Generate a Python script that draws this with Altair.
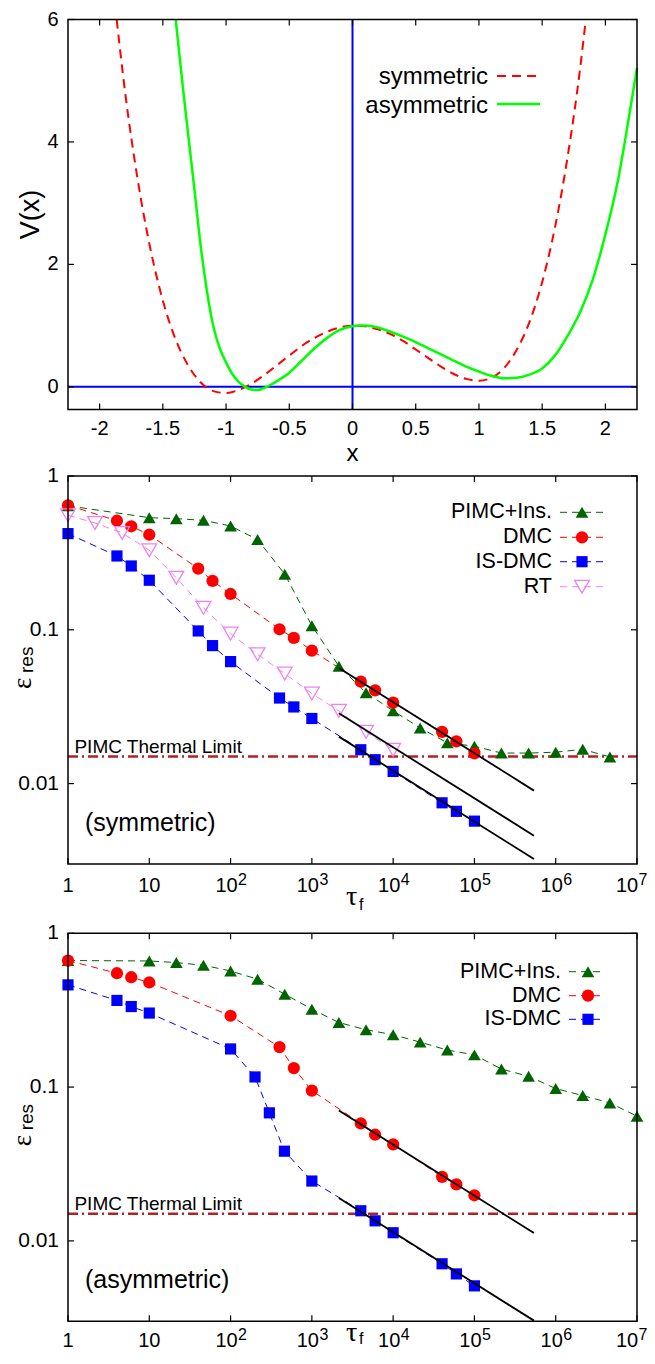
import altair as alt
import pandas as pd

# ---------------- potential panel ----------------
sym_x = [-1.865, -1.8, -1.7, -1.6, -1.5, -1.4, -1.3, -1.2, -1.1, -1.0, -0.9, -0.8, -0.7, -0.6,
         -0.5, -0.4, -0.3, -0.2, -0.1, 0.0, 0.1, 0.2, 0.3, 0.4, 0.5, 0.6, 0.7, 0.8, 0.9, 1.0,
         1.1, 1.2, 1.3, 1.4, 1.5, 1.6, 1.7, 1.8, 1.845]
sym_v = [6.0, 4.84, 3.40, 2.27, 1.41, 0.78, 0.35, 0.07, -0.07, -0.10, -0.05, 0.05, 0.19, 0.35,
         0.51, 0.67, 0.80, 0.90, 0.97, 1.00, 0.99, 0.94, 0.86, 0.75, 0.61, 0.47, 0.33, 0.21, 0.13, 0.10,
         0.15, 0.31, 0.61, 1.06, 1.71, 2.59, 3.74, 5.20, 6.0]
asym_x = [-1.398, -1.35, -1.30, -1.25, -1.20, -1.15, -1.10, -1.05, -1.00, -0.95, -0.90, -0.85, -0.80,
          -0.75, -0.70, -0.65, -0.60, -0.50, -0.40, -0.30, -0.20, -0.10, 0.00, 0.05, 0.10, 0.20, 0.30,
          0.40, 0.50, 0.60, 0.70, 0.80, 0.90, 1.00, 1.10, 1.20, 1.30, 1.40, 1.50, 1.60, 1.70, 1.80,
          1.90, 2.00, 2.10, 2.20, 2.25]
asym_v = [6.0, 5.05, 4.13, 3.22, 2.29, 1.55, 0.98, 0.63, 0.40, 0.21, 0.08, 0.00, -0.045,
          -0.05, -0.02, 0.03, 0.09, 0.23, 0.43, 0.63, 0.80, 0.93, 0.99, 1.00, 1.00, 0.97, 0.90,
          0.82, 0.73, 0.63, 0.53, 0.43, 0.33, 0.25, 0.18, 0.14, 0.15, 0.20, 0.30, 0.51, 0.83, 1.22,
          1.75, 2.49, 3.38, 4.58, 5.21]
top_x_ticks = [-2, -1.5, -1, -0.5, 0, 0.5, 1, 1.5, 2]
top_x_labels = ["-2", "-1.5", "-1", "-0.5", "0", "0.5", "1", "1.5", "2"]
top_y_ticks = [0, 2, 4, 6]
top_y_labels = ["0", "2", "4", "6"]

# ---------------- symmetric panel ----------------
pimc_s_tau = [1, 10, 21.5, 46.4, 100, 215, 464, 1000, 2150, 4640, 1e4, 21500, 46400, 1e5,
              215000, 464000, 1e6, 2.15e6, 4.64e6]
pimc_s_eps = [0.64, 0.536, 0.528, 0.515, 0.473, 0.386, 0.230, 0.1064, 0.058, 0.039, 0.0297, 0.023,
              0.0184, 0.0175, 0.0158, 0.0158, 0.0160, 0.0167, 0.0149]
dmc_s_tau = [1, 4, 6, 10, 40, 60, 100, 400, 600, 1000, 4000, 6000, 1e4, 4e4, 6e4, 1e5]
dmc_s_eps = [0.645, 0.512, 0.471, 0.415, 0.250, 0.208, 0.171, 0.1008, 0.0885, 0.0732, 0.046,
             0.0404, 0.0336, 0.0217, 0.0188, 0.0157]
isdmc_s_tau = [1, 4, 6, 10, 40, 60, 100, 400, 600, 1000, 4000, 6000, 1e4, 4e4, 6e4, 1e5]
isdmc_s_eps = [0.422, 0.302, 0.260, 0.210, 0.0983, 0.0789, 0.0621, 0.0360, 0.0315, 0.0265,
               0.0166, 0.0143, 0.0120, 0.0075, 0.0066, 0.0057]
rt_s_tau = [1, 2.15, 4.64, 10, 21.5, 46.4, 100, 215, 464, 1000, 2150, 4640, 1e4]
rt_s_eps = [0.555, 0.495, 0.426, 0.329, 0.218, 0.139, 0.0944, 0.0693, 0.0519, 0.0385, 0.0297,
            0.0217, 0.0166]
fit_tau = [2150, 5.4e5]
fit_s_dmc = [0.0565, 0.0090]
fit_s_rt = [0.0287, 0.00458]
fit_s_is = [0.0202, 0.00323]

# ---------------- asymmetric panel ----------------
pimc_a_tau = [1, 10, 21.5, 46.4, 100, 215, 464, 1000, 2150, 4640, 1e4, 21500, 46400, 1e5,
              215000, 464000, 1e6, 2.15e6, 4.64e6, 1e7]
pimc_a_eps = [0.665, 0.661, 0.645, 0.620, 0.569, 0.503, 0.402, 0.321, 0.263, 0.236, 0.219, 0.196,
              0.174, 0.162, 0.131, 0.1175, 0.0978, 0.0881, 0.0789, 0.0647]
dmc_a_tau = [1, 4, 6, 10, 100, 400, 600, 1000, 4000, 6000, 1e4, 4e4, 6e4, 1e5]
dmc_a_eps = [0.665, 0.550, 0.518, 0.479, 0.291, 0.182, 0.133, 0.0949, 0.058, 0.049, 0.0424,
             0.0261, 0.0233, 0.0198]
isdmc_a_tau = [1, 4, 6, 10, 100, 200, 300, 460, 1000, 4000, 6000, 1e4, 4e4, 6e4, 1e5]
isdmc_a_eps = [0.462, 0.366, 0.334, 0.303, 0.177, 0.1164, 0.068, 0.0383, 0.0245, 0.0157, 0.0135,
               0.0113, 0.0071, 0.0061, 0.0051]
fit_a_dmc = [0.0704, 0.01125]
fit_a_is = [0.0190, 0.00303]

thermal_limit = 0.015
log_tick_vals = [1, 10, 100, 1e3, 1e4, 1e5, 1e6, 1e7]
log_tick_base = ["1", "10", "10", "10", "10", "10", "10", "10"]
log_tick_exp = ["", "", "2", "3", "4", "5", "6", "7"]
log_y_ticks = [0.01, 0.1, 1]
log_y_labels = ["0.01", "0.1", "1"]

# ---------------- layout / styling ----------------
FONT = "Liberation Sans, Arial, Helvetica, sans-serif"
SERIF = "Liberation Serif, Times New Roman, serif"
W = 569
T1, H1 = 11.5, 390          # top panel (potential)
T2, T3, H = 468, 925.3, 388  # log panels
HT = 1343
ONE = pd.DataFrame({"k": [0]})
C_PIMC, C_DMC, C_IS, C_RT = "#006400", "#ff0000", "#0000ff", "#ee82ee"
C_TH = "#b22222"


def text_at(s, x, y, size, align="left", baseline="middle", angle=0, font=FONT):
    props = dict(text=s, align=align, baseline=baseline, font=font, fontSize=size, color="black")
    if angle:
        props["angle"] = angle
    return alt.Chart(ONE).mark_text(**props).encode(x=alt.value(x), y=alt.value(y))


def seg(x1, x2, y, color, width, dash=None):
    props = dict(color=color, strokeWidth=width)
    if dash:
        props["strokeDash"] = dash
    return alt.Chart(ONE).mark_rule(**props).encode(x=alt.value(x1), x2=alt.value(x2), y=alt.value(y))


def frame(T, Hh):
    return alt.Chart(ONE).mark_rect(fillOpacity=0, stroke="black", strokeWidth=1.5).encode(
        x=alt.value(0), x2=alt.value(W), y=alt.value(T), y2=alt.value(T + Hh))


def inner_ticks(xvals, yvals, xs, ys, T, Hh, L=6):
    xd = pd.DataFrame({"t": xvals})
    yd = pd.DataFrame({"t": yvals})
    st = dict(color="black", strokeWidth=1.2)
    X = alt.X("t:Q", scale=xs, axis=None)
    Y = alt.Y("t:Q", scale=ys, axis=None)
    return [
        alt.Chart(xd).mark_rule(**st).encode(x=X, y=alt.value(T + Hh), y2=alt.value(T + Hh - L)),
        alt.Chart(xd).mark_rule(**st).encode(x=X, y=alt.value(T), y2=alt.value(T + L)),
        alt.Chart(yd).mark_rule(**st).encode(y=Y, x=alt.value(0), x2=alt.value(L)),
        alt.Chart(yd).mark_rule(**st).encode(y=Y, x=alt.value(W), x2=alt.value(W - L)),
    ]


def y_labels(vals, labels, ys, size, pad):
    df = pd.DataFrame({"t": vals, "lab": labels})
    return alt.Chart(df).mark_text(align="right", baseline="middle", font=FONT, fontSize=size,
                                   color="black").encode(
        y=alt.Y("t:Q", scale=ys, axis=None), x=alt.value(-pad), text="lab:N")


# ================= top panel =================
xs_t = alt.Scale(domain=[-2.25, 2.25], range=[0, W], nice=False, zero=False)
ys_t = alt.Scale(domain=[-0.37, 6], range=[T1 + H1, T1], nice=False, zero=False)

zero_h = alt.Chart(pd.DataFrame({"v": [0]})).mark_rule(color="#0000ff", strokeWidth=2).encode(
    y=alt.Y("v:Q", scale=ys_t, axis=None), x=alt.value(0), x2=alt.value(W))
zero_v = alt.Chart(pd.DataFrame({"x": [0]})).mark_rule(color="#0000ff", strokeWidth=2).encode(
    x=alt.X("x:Q", scale=xs_t, axis=None), y=alt.value(T1), y2=alt.value(T1 + H1))
red_curve = alt.Chart(pd.DataFrame({"x": sym_x, "v": sym_v})).mark_line(
    color="#ff0000", strokeWidth=2, strokeDash=[9, 6], interpolate="monotone").encode(
    x=alt.X("x:Q", scale=xs_t, axis=None), y=alt.Y("v:Q", scale=ys_t, axis=None))
green_curve = alt.Chart(pd.DataFrame({"x": asym_x, "v": asym_v})).mark_line(
    color="#00ff00", strokeWidth=2.5, interpolate="monotone").encode(
    x=alt.X("x:Q", scale=xs_t, axis=None), y=alt.Y("v:Q", scale=ys_t, axis=None))
top_xlab = alt.Chart(pd.DataFrame({"t": top_x_ticks, "lab": top_x_labels})).mark_text(
    align="center", baseline="alphabetic", font=FONT, fontSize=20, color="black").encode(
    x=alt.X("t:Q", scale=xs_t, axis=None), y=alt.value(T1 + H1 + 25), text="lab:N")

top_layers = [zero_h, zero_v, red_curve, green_curve] + \
    inner_ticks(top_x_ticks, top_y_ticks, xs_t, ys_t, T1, H1) + [
    top_xlab,
    y_labels(top_y_ticks, top_y_labels, ys_t, 20, 9.5),
    text_at("symmetric", 420, T1 + 57.5, 24, align="right"),
    seg(429, 472, T1 + 56.5, "#ff0000", 2, [9, 6]),
    text_at("asymmetric", 420, T1 + 86.5, 24, align="right"),
    seg(429, 472, T1 + 84.5, "#00ff00", 2.5),
    text_at("V(x)", -37, T1 + H1 / 2, 27, align="center", baseline="middle", angle=270),
    text_at("x", W / 2, T1 + H1 + 51.5, 24, align="center", baseline="alphabetic"),
    frame(T1, H1),
]
top = alt.layer(*top_layers)

# ================= log panels =================
ticks_df = pd.DataFrame({"tau": log_tick_vals, "base": log_tick_base, "exp": log_tick_exp})
plain_df = ticks_df[ticks_df["exp"] == ""]
pow_df = ticks_df[(ticks_df["exp"] != "") & (ticks_df["tau"] < 1e7)]
edge_df = ticks_df[ticks_df["tau"] >= 1e7]   # last label, nudged left to stay on the page


def log_panel(T, series_specs, fits, legend_ys, leg_pos, panel_text, lab_y, tau_y, f_y):
    xs = alt.Scale(type="log", domain=[1, 1e7], range=[0, W], nice=False)
    ys = alt.Scale(type="log", domain=[0.003, 1], range=[T + H, T], nice=False)
    X = alt.X("tau:Q", scale=xs, axis=None)
    Y = alt.Y("eps:Q", scale=ys, axis=None)

    thermal = alt.Chart(pd.DataFrame({"eps": [thermal_limit]})).mark_rule(
        color=C_TH, strokeWidth=2.5, strokeDash=[10, 4, 2, 4]).encode(
        y=Y, x=alt.value(0), x2=alt.value(W))
    thermal_txt = alt.Chart(pd.DataFrame({"tau": [1.2], "eps": [thermal_limit]})).mark_text(
        text="PIMC Thermal Limit", align="left", baseline="alphabetic", dy=-4, font=FONT,
        fontSize=19, color="black").encode(x=X, y=Y)

    lines, pts = [], []
    for (tau, eps, color, shape, filled, size, _lab) in series_specs:
        df = pd.DataFrame({"tau": tau, "eps": eps})
        lines.append(alt.Chart(df).mark_line(color=color, strokeWidth=1, strokeDash=[7, 5]).encode(x=X, y=Y))
        pprops = dict(shape=shape, filled=filled, size=size, color=color, opacity=1)
        if not filled:
            pprops["strokeWidth"] = 1.3
        pts.append(alt.Chart(df).mark_point(**pprops).encode(x=X, y=Y))

    fl = [alt.Chart(pd.DataFrame({"tau": fit_tau, "eps": e})).mark_line(
        color="black", strokeWidth=1.8).encode(x=X, y=Y) for e in fits]

    ly = alt.value(T + H + lab_y)
    tprops = dict(align="center", baseline="alphabetic", font=FONT, color="black")
    xlabels = [
        alt.Chart(plain_df).mark_text(fontSize=20, **tprops).encode(x=X, y=ly, text="base:N"),
        alt.Chart(pow_df).mark_text(fontSize=20, dx=-4, **tprops).encode(x=X, y=ly, text="base:N"),
        alt.Chart(pow_df).mark_text(fontSize=16, dx=12, dy=-7, **tprops).encode(x=X, y=ly, text="exp:N"),
        alt.Chart(edge_df).mark_text(fontSize=20, dx=-10, **tprops).encode(x=X, y=ly, text="base:N"),
        alt.Chart(edge_df).mark_text(fontSize=16, dx=6, dy=-7, **tprops).encode(x=X, y=ly, text="exp:N"),
    ]

    leg = []
    xr, x1, x2, xm = leg_pos
    for (spec, y) in zip(series_specs, legend_ys):
        tau, eps, color, shape, filled, size, lab = spec
        pprops = dict(shape=shape, filled=filled, size=size, color=color, opacity=1)
        if not filled:
            pprops["strokeWidth"] = 1.3
        leg += [
            text_at(lab, xr, T + y, 21.5, align="right"),
            seg(x1, x2, T + y, color, 1, [7, 5]),
            alt.Chart(ONE).mark_point(**pprops).encode(x=alt.value(xm), y=alt.value(T + y)),
        ]

    titles = [
        text_at("\u03b5", -37, T + 213, 27, align="left", baseline="alphabetic", angle=270, font=SERIF),
        text_at("res", -35, T + 197, 19, align="left", baseline="alphabetic", angle=270),
        text_at("\u03c4", 278, T + H + tau_y, 28, align="left", baseline="alphabetic", font=SERIF),
        text_at("f", 291, T + H + f_y, 16, align="left", baseline="alphabetic"),
        text_at(panel_text, 17, T + 347, 25, align="left", baseline="middle"),
    ]
    layers = [thermal, thermal_txt] + lines + pts + fl + \
        inner_ticks(log_tick_vals, log_y_ticks, xs, ys, T, H) + xlabels + \
        [y_labels(log_y_ticks, log_y_labels, ys, 21, 9)] + leg + titles + [frame(T, H)]
    return alt.layer(*layers)


sym_specs = [
    (pimc_s_tau, pimc_s_eps, C_PIMC, "triangle-up", True, 160, "PIMC+Ins."),
    (dmc_s_tau, dmc_s_eps, C_DMC, "circle", True, 150, "DMC"),
    (isdmc_s_tau, isdmc_s_eps, C_IS, "square", True, 125, "IS-DMC"),
    (rt_s_tau, rt_s_eps, C_RT, "triangle-down", False, 220, "RT"),
]
asym_specs = [
    (pimc_a_tau, pimc_a_eps, C_PIMC, "triangle-up", True, 160, "PIMC+Ins."),
    (dmc_a_tau, dmc_a_eps, C_DMC, "circle", True, 150, "DMC"),
    (isdmc_a_tau, isdmc_a_eps, C_IS, "square", True, 125, "IS-DMC"),
]

mid = log_panel(T2, sym_specs, [fit_s_dmc, fit_s_rt, fit_s_is], [36.3, 61.3, 85.7, 110.7],
                (484, 492, 536, 514), "(symmetric)", 28, 41, 46)
bot = log_panel(T3, asym_specs, [fit_a_dmc, fit_a_is], [38.4, 62.4, 86],
                (493, 501, 537, 520), "(asymmetric)", 25.5, 19.5, 22.5)

chart = alt.layer(top, mid, bot).resolve_scale(x="independent", y="independent").properties(
    width=W, height=HT,
    autosize=alt.AutoSizeParams(type="none"),
    padding={"left": 60, "top": 0, "right": 10, "bottom": 0},
).configure(background="white").configure_view(strokeWidth=0)

chart.save("out.html", embed_options={"renderer": "svg", "actions": False})
